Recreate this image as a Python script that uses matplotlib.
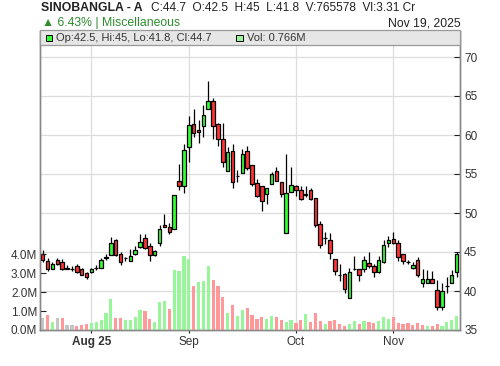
from __future__ import annotations

import matplotlib

matplotlib.use("Agg")

import matplotlib.pyplot as plt
import numpy as np
from matplotlib.patches import Rectangle


# daily candles, mid-Jul .. Nov 19, 2025 (one entry per trading day)
opens = [44.7, 43.9, 42.8, 44.0, 43.7, 42.9, 42.8, 43.2, 42.8, 42.3,
         42.4, 42.9, 43.0, 44.2, 44.6, 46.5, 44.8, 44.2, 43.9, 44.8,
         45.6, 46.8, 45.8, 44.6, 46.1, 48.5, 48.2, 47.9, 54.1, 53.4,
         58.4, 61.4, 60.7, 61.2, 63.3, 64.3, 61.4, 59.5, 55.4, 57.9,
         54.8, 55.1, 58.0, 56.1, 53.9, 53.4, 52.4, 53.7, 55.4, 54.0,
         47.4, 52.7, 53.5, 53.0, 52.5, 52.9, 51.9, 48.6, 46.8, 46.5,
         44.1, 42.0, 42.2, 39.1, 42.8, 42.8, 42.8, 43.6, 43.2, 42.4,
         43.7, 46.2, 46.7, 46.2, 44.7, 43.7, 43.0, 44.0, 41.0, 41.0,
         41.6, 40.1, 37.9, 40.7, 41.0, 42.5]
highs = [45.3, 44.2, 43.7, 44.2, 44.1, 43.3, 43.2, 43.5, 43.0, 42.5,
         43.0, 43.3, 44.2, 44.8, 46.9, 46.7, 45.0, 44.4, 45.4, 45.8,
         47.3, 47.3, 46.2, 45.3, 48.5, 49.9, 48.7, 52.3, 56.3, 58.9,
         62.4, 63.3, 61.9, 63.9, 66.9, 64.7, 61.5, 61.5, 58.5, 58.8,
         55.5, 58.2, 58.6, 56.1, 54.3, 53.4, 53.2, 55.3, 55.9, 54.0,
         57.6, 55.9, 53.6, 53.4, 53.4, 53.2, 51.9, 49.0, 47.6, 47.4,
         44.1, 43.4, 42.3, 42.9, 44.5, 42.8, 44.5, 45.0, 43.5, 44.5,
         46.6, 47.0, 47.6, 46.5, 44.8, 44.0, 43.7, 44.4, 42.8, 42.7,
         42.6, 41.4, 41.0, 41.8, 42.7, 45.0]
lows = [43.7, 42.6, 42.8, 43.3, 42.7, 42.8, 42.6, 42.3, 42.0, 41.6,
        42.3, 42.7, 42.9, 44.0, 44.6, 44.5, 43.3, 43.9, 43.9, 44.6,
        45.5, 45.4, 43.9, 44.5, 45.8, 48.2, 47.3, 47.9, 52.9, 52.6,
        56.6, 59.8, 59.0, 59.8, 63.3, 59.5, 58.6, 55.9, 55.4, 53.2,
        54.0, 55.1, 55.5, 53.4, 52.0, 50.3, 51.2, 53.7, 54.1, 52.1,
        47.4, 52.7, 52.2, 51.7, 52.1, 51.7, 48.2, 45.5, 46.0, 44.1,
        42.1, 41.3, 39.8, 39.1, 42.7, 41.3, 42.5, 43.0, 41.8, 42.3,
        43.6, 45.7, 46.0, 43.9, 43.5, 43.4, 42.8, 41.8, 40.5, 41.0,
        41.0, 37.6, 37.6, 39.7, 41.0, 41.8]
closes = [44.0, 42.8, 43.5, 43.5, 42.8, 42.8, 42.8, 42.5, 42.1, 41.8,
          42.8, 42.9, 44.0, 44.3, 46.2, 44.6, 43.7, 44.2, 44.5, 45.3,
          46.3, 45.5, 44.6, 45.1, 48.0, 48.2, 47.6, 52.3, 53.5, 58.1,
          61.3, 60.2, 60.4, 62.6, 64.3, 61.1, 59.5, 56.5, 57.8, 54.0,
          54.8, 57.5, 55.8, 53.7, 52.2, 51.5, 53.2, 55.0, 54.1, 52.4,
          52.6, 53.6, 52.9, 51.8, 52.3, 51.8, 48.5, 45.9, 46.8, 44.9,
          42.6, 42.0, 40.2, 42.5, 42.8, 42.0, 44.0, 43.2, 42.4, 44.0,
          45.9, 46.5, 46.1, 44.3, 43.9, 43.7, 43.3, 42.0, 41.5, 41.6,
          41.0, 37.9, 40.0, 40.7, 42.0, 44.7]
# volume in millions
volumes = [0.65, 0.79, 0.44, 0.65, 0.65, 0.26, 0.26, 0.23, 0.26, 0.32,
           0.37, 0.44, 0.53, 0.90, 1.64, 0.65, 0.65, 0.53, 0.53, 0.69,
           1.06, 1.00, 0.58, 0.42, 1.50, 1.53, 1.11, 3.17, 3.13, 3.92,
           3.76, 2.33, 2.55, 2.61, 3.39, 2.65, 2.33, 1.73, 0.92, 1.32,
           0.74, 1.06, 1.16, 0.79, 0.58, 0.67, 0.58, 0.74, 0.69, 0.53,
           0.42, 0.53, 0.39, 0.53, 0.85, 0.42, 0.90, 0.49, 0.32, 0.48,
           0.53, 0.32, 0.23, 0.31, 0.48, 0.31, 0.48, 0.44, 0.37, 0.48,
           0.71, 0.58, 0.71, 0.37, 0.32, 0.37, 0.28, 0.37, 0.28, 0.23,
           0.23, 0.32, 0.23, 0.42, 0.53, 0.766]

month_pos = [10, 30, 52, 72]
month_labels = ["Aug 25", "Sep", "Oct", "Nov"]
price_ticks = [35, 40, 45, 50, 55, 60, 65, 70]
vol_ticks = [0, 1, 2, 3, 4]
vol_labels = ["0.0M", "1.0M", "2.0M", "3.0M", "4.0M"]

symbol = "SINOBANGLA - A"
quote_line = "C:44.7  O:42.5  H:45  L:41.8  V:765578  Vl:3.31 Cr"
change_line = "\u25b2 6.43% | Miscellaneous"
date_text = "Nov 19, 2025"
legend_ohlc = "Op:42.5, Hi:45, Lo:41.8, Cl:44.7"
legend_vol = "Vol: 0.766M"

UP = "#33ff33"
DOWN = "#ff3333"
VOL_UP = "#99f599"
VOL_DOWN = "#ff9999"
VOL_FLAT = "#c4c4c4"
GRID = "#dddddd"
SPINE = "#888888"
TXT = "#333333"

# plot box in pixels (500x366 canvas)
PX_LEFT, PX_RIGHT, PX_TOP, PX_BOTTOM = 40, 460, 30.5, 330


def setup_plot_style() -> None:
    plt.rcParams["font.family"] = ["Liberation Sans", "DejaVu Sans"]
    plt.rcParams["font.size"] = 8.5
    plt.rcParams["axes.unicode_minus"] = False


def main() -> None:
    setup_plot_style()

    o = np.array(opens)
    h = np.array(highs)
    l = np.array(lows)
    c = np.array(closes)
    v = np.array(volumes)
    x = np.arange(len(o))

    chg = np.diff(c, prepend=np.nan)
    vol_colors = [VOL_UP if d > 1e-9 else VOL_DOWN if d < -1e-9 else VOL_FLAT for d in chg]
    body_colors = [UP if cc >= oo else DOWN for oo, cc in zip(o, c)]

    w_px = PX_RIGHT - PX_LEFT
    h_px = PX_BOTTOM - PX_TOP

    fig = plt.figure(figsize=(5.0, 3.66), dpi=100)
    ax = fig.add_axes([PX_LEFT / 500, (366 - PX_BOTTOM) / 366, w_px / 500, h_px / 366])
    axv = ax.twinx()

    # price axis (right) with grid underneath everything
    ax.set_xlim(-0.55, 85.7)
    ax.set_ylim(35, 35 + h_px / 7.8)
    ax.yaxis.tick_right()
    ax.set_yticks(price_ticks)
    ax.set_xticks(month_pos)
    ax.set_xticklabels(month_labels)
    ax.get_xticklabels()[0].set_fontweight("bold")
    ax.grid(True, color=GRID, linewidth=0.9)
    ax.set_axisbelow(True)
    ax.tick_params(axis="y", direction="in", length=4, width=0.8, colors="#222222",
                   labelcolor=TXT, labelsize=8.5, pad=3)
    ax.tick_params(axis="x", direction="out", length=2.5, width=0.8, colors="#222222",
                   labelcolor=TXT, labelsize=8.5, pad=2)

    ax.vlines(x, l, h, color="black", linewidth=0.9, zorder=3)
    ax.bar(x, c - o, bottom=o, width=0.72, color=body_colors, edgecolor="black",
           linewidth=0.9, zorder=4)

    # volume axis (left) on top, transparent
    axv.set_ylim(0, h_px / 18.9)
    axv.yaxis.tick_left()
    axv.set_yticks(vol_ticks)
    axv.set_yticklabels(vol_labels)
    axv.tick_params(axis="y", direction="in", length=4, width=0.8, colors="#222222",
                    labelcolor=TXT, labelsize=8.5, pad=2)
    axv.bar(x, v, width=0.66, color=vol_colors, linewidth=0, zorder=1)

    for a in (ax, axv):
        a.spines["top"].set_visible(False)
        for side in ("left", "right", "bottom"):
            a.spines[side].set_color(SPINE)
            a.spines[side].set_linewidth(1.0)

    # legend strip across the top of the plot
    strip_h = 14.5 / h_px
    axv.add_patch(Rectangle((0, 1 - strip_h), 1, strip_h, transform=axv.transAxes,
                            facecolor="#e6e6e6", edgecolor="#999999", linewidth=0.9,
                            zorder=10, clip_on=False))
    sq_w = 6.6 / w_px
    sq_h = 6.6 / h_px
    sq_y = 1 - 10.6 / h_px
    axv.add_patch(Rectangle((5.7 / w_px, sq_y), sq_w, sq_h, transform=axv.transAxes,
                            facecolor=UP, edgecolor="black", linewidth=0.7, zorder=11,
                            clip_on=False))
    axv.add_patch(Rectangle((196.3 / w_px, sq_y), sq_w, sq_h, transform=axv.transAxes,
                            facecolor=VOL_UP, edgecolor="black", linewidth=0.7, zorder=11,
                            clip_on=False))
    axv.text(16.5 / w_px, 1 - 7.3 / h_px, legend_ohlc, transform=axv.transAxes,
             va="center", ha="left", fontsize=8, color=TXT, zorder=12)
    axv.text(207 / w_px, 1 - 7.3 / h_px, legend_vol, transform=axv.transAxes,
             va="center", ha="left", fontsize=8, color=TXT, zorder=12)

    # header lines
    fig.text(40.7 / 500, 1 - 10.7 / 366, symbol, fontsize=8.8, fontweight="bold",
             color="#222222", va="baseline", ha="left")
    fig.text(150.7 / 500, 1 - 10.7 / 366, quote_line, fontsize=8.6, color="#222222",
             va="baseline", ha="left")
    fig.text(42.0 / 500, 1 - 26 / 366, change_line, fontsize=8.8, color="#2e8b2e",
             va="baseline", ha="left")
    fig.text(460.7 / 500, 1 - 26 / 366, date_text, fontsize=8.8, color="#222222",
             va="baseline", ha="right")

    fig.savefig("out.png", dpi=100)
    plt.close(fig)


if __name__ == "__main__":
    main()
